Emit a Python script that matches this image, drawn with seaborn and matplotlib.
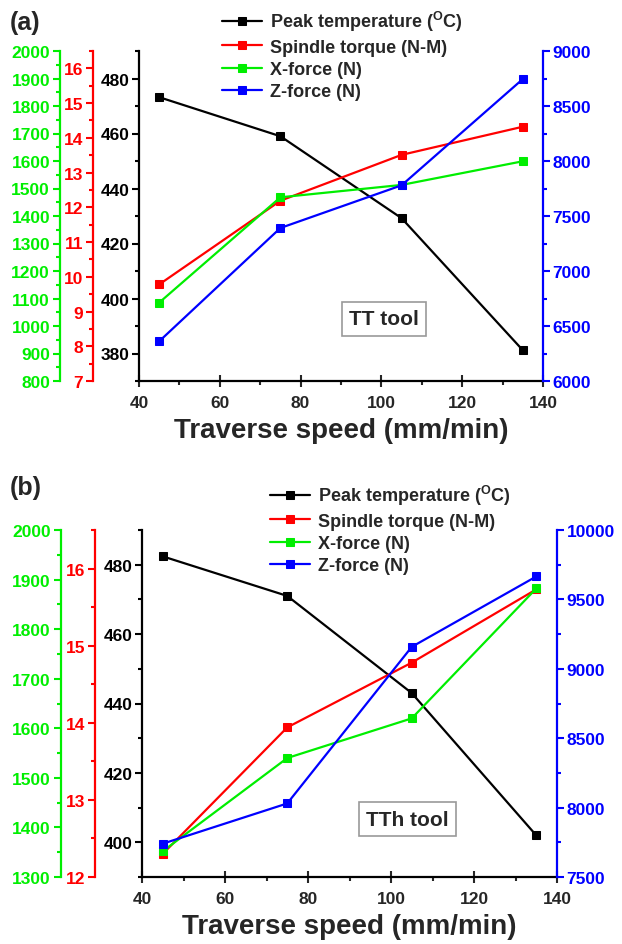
import numpy as np
import matplotlib
matplotlib.use('Agg')
import matplotlib.pyplot as plt
from matplotlib.ticker import MultipleLocator
import seaborn as sns

# traverse speeds (mm/min)
speed = [45, 75, 105, 135]

# (a) TT tool
a_temp = [473.2, 459, 429.2, 381.2]
a_torque = [9.78, 12.19, 13.51, 14.32]
a_xforce = [1085, 1468, 1513, 1599]
a_zforce = [6361, 7391, 7779, 8745]

# (b) TTh tool
b_temp = [482.4, 471, 443, 402]
b_torque = [12.3, 13.94, 14.78, 15.73]
b_xforce = [1352, 1540, 1620, 1882]
b_zforce = [7740, 8030, 9158, 9665]

labels = [r'Peak temperature ($^{\mathbf{O}}$C)', 'Spindle torque (N-M)',
          'X-force (N)', 'Z-force (N)']
colors = ['black', '#ff0000', '#00ee00', '#0000ff']

sns.set_style('ticks')
plt.rcParams['font.family'] = ['Liberation Sans', 'DejaVu Sans']
plt.rcParams['font.weight'] = 'bold'
plt.rcParams['mathtext.fontset'] = 'custom'
plt.rcParams['mathtext.rm'] = 'Liberation Sans:bold'
plt.rcParams['mathtext.bf'] = 'Liberation Sans:bold'

W, H = 622, 945
fig = plt.figure(figsize=(W / 100, H / 100), dpi=100)


def style_y(axx, color, side, pos, lim, major, minor):
    axx.set_ylim(*lim)
    axx.yaxis.set_major_locator(MultipleLocator(major))
    axx.yaxis.set_minor_locator(MultipleLocator(minor))
    for s in ['top', 'bottom', 'left', 'right']:
        axx.spines[s].set_visible(False)
    axx.spines[side].set_visible(True)
    axx.spines[side].set_color(color)
    axx.spines[side].set_linewidth(1.6)
    if pos is not None:
        axx.spines[side].set_position(('axes', pos))
    axx.yaxis.set_ticks_position(side)
    axx.yaxis.set_label_position(side)
    axx.tick_params(axis='y', which='major', direction='out', length=5, width=1.5,
                    color=color, labelcolor=color, labelsize=12.5, pad=2)
    axx.tick_params(axis='y', which='minor', direction='out', length=3, width=1.5,
                    color=color)
    for t in axx.get_yticklabels():
        t.set_fontweight('bold')
    axx.set_ylabel('')


def panel(rect, temp, torque, xforce, zforce, tlim, qlim, xlim_, zlim,
          xmaj, zmaj, tool, toolpos, leg_anchor):
    ax = fig.add_axes(rect)
    ax_q = ax.twinx()
    ax_x = ax.twinx()
    ax_z = ax.twinx()
    series = [(ax, temp), (ax_q, torque), (ax_x, xforce), (ax_z, zforce)]
    for (axx, vals), lab, c in zip(series, labels, colors):
        sns.lineplot(x=speed, y=vals, ax=axx, color=c, marker='s', markersize=6,
                     markeredgecolor=c, linewidth=1.6, label=lab, legend=False)

    ax.set_xlim(40, 140)
    ax.xaxis.set_major_locator(MultipleLocator(20))
    ax.xaxis.set_minor_locator(MultipleLocator(10))
    ax.tick_params(axis='x', which='major', direction='inout', length=8, width=1.5,
                   labelsize=12.5, pad=6)
    ax.tick_params(axis='x', which='minor', direction='out', length=3, width=1.5)
    ax.spines['bottom'].set_linewidth(1.6)
    for t in ax.get_xticklabels():
        t.set_fontweight('bold')
    ax.set_xlabel('Traverse speed (mm/min)', fontsize=20, fontweight='bold', labelpad=5)

    style_y(ax, 'black', 'left', None, tlim, 20, 10)
    ax.spines['bottom'].set_visible(True)
    ax.spines['bottom'].set_color('black')
    style_y(ax_q, '#ff0000', 'left', -0.114, qlim, 1, 0.5)
    style_y(ax_x, '#00ee00', 'left', -0.196, xlim_, xmaj, xmaj / 2)
    style_y(ax_z, '#0000ff', 'right', None, zlim, zmaj, zmaj / 2)

    ax.text(toolpos[0], toolpos[1], tool, transform=ax.transAxes, fontsize=15,
            fontweight='bold', ha='center', va='center', zorder=10,
            bbox=dict(boxstyle='square,pad=0.35', facecolor='white',
                      edgecolor='#999999', linewidth=1.2))

    handles = []
    for axx in [ax, ax_q, ax_x, ax_z]:
        h, _ = axx.get_legend_handles_labels()
        handles += h
    fig.legend(handles, labels, loc='upper left', bbox_to_anchor=leg_anchor,
               frameon=False, handlelength=2.2, handletextpad=0.45,
               labelspacing=0.3, borderpad=0, borderaxespad=0,
               prop={'weight': 'bold', 'size': 13})
    return ax


panel([139 / W, 1 - 382 / H, 404 / W, 330 / H],
      a_temp, a_torque, a_xforce, a_zforce,
      (370, 490), (7, 16.5), (800, 2000), (6000, 9000), 100, 500,
      'TT tool', (0.606, 0.188), (222 / W, 1 - 10 / H))

panel([142 / W, 1 - 878 / H, 415 / W, 347 / H],
      b_temp, b_torque, b_xforce, b_zforce,
      (390, 490), (12, 16.5), (1300, 2000), (7500, 10000), 100, 500,
      'TTh tool', (0.64, 0.167), (270 / W, 1 - 484 / H))

fig.text(10 / W, 1 - 23 / H, '(a)', fontsize=18, fontweight='bold', va='center')
fig.text(10 / W, 1 - 488 / H, '(b)', fontsize=18, fontweight='bold', va='center')

fig.savefig('out.png', dpi=100)
